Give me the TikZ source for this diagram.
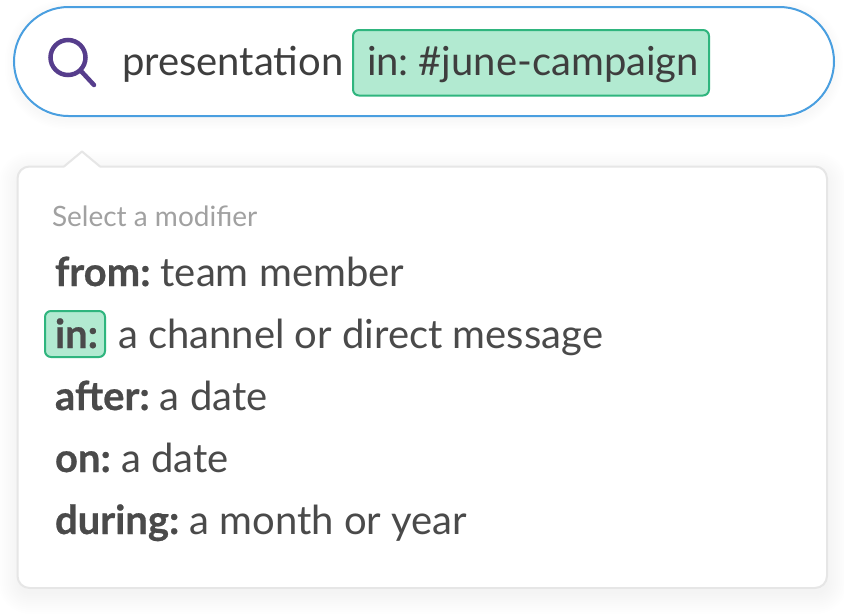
\documentclass[tikz,border=0pt]{standalone}
\usepackage{fontspec}
\setmainfont{Lato}[BoldFeatures={FakeBold=0.6}]
\usetikzlibrary{calc}
\definecolor{ink}{HTML}{3E3E3E}
\definecolor{rowink}{HTML}{4A4A4A}
\definecolor{chipfill}{HTML}{B2EAD1}
\definecolor{chipline}{HTML}{2FB57E}
\definecolor{barline}{HTML}{4A9FE0}
\definecolor{iconc}{HTML}{563D8C}
\definecolor{panelline}{HTML}{E6E6E6}
\newcommand{\lbl}[1]{\textbf{#1}\ }
\tikzset{
  x=1pt,y=-1pt,
  txt/.style={anchor=base west,inner sep=0pt,outer sep=0pt,text=rowink,font=\fontsize{40}{44}\selectfont},
  chip/.style={draw=chipline,fill=chipfill,line width=2pt,rounded corners=6pt},
  softshadow/.style={draw=black,opacity=0.005,line join=round,fill=none}
}
\begin{document}
\begin{tikzpicture}
\useasboundingbox (0,0) rectangle (844,614);
\fill[white] (0,0) rectangle (844,614);
% shadows
\foreach \w in {4,8,...,44}{
  \draw[softshadow,line width=\w pt,rounded corners=10pt] (20,174) rectangle (826,592);
}
\foreach \w in {2,5,...,20}{
  \draw[softshadow,line width=\w pt,rounded corners=50pt] (15,10) rectangle (833,119);
}
% search bar
\draw[draw=barline,fill=white,line width=2pt,rounded corners=54.5pt] (14,7) rectangle (834,116);
% icon
\draw[iconc,line width=4.5pt] (68,57.5) circle (17.5);
\draw[iconc,line width=4.5pt,line cap=round] (81,71) -- (94,85);
\node[txt,text=ink] (query) at (122,75) {presentation};
\draw[chip] (353,30) rectangle (709,95.5);
\node[txt,text=ink] (tag) at (367,75) {in:\kern-0.5pt\ \#june-campaign};
% panel
\draw[draw=panelline,fill=white,line width=2pt,line join=round,rounded corners=12pt]
  (64,166.5) [sharp corners] -- (82,151.5) -- (100,166.5) [rounded corners=12pt] -- (827,166.5)
  -- (827,588) -- (17.5,588) -- (17.5,166.5) [sharp corners] -- cycle;
\node[txt,text=black!37,font=\fontsize{28}{32}\selectfont] (head) at (52,226) {Select a modifier};
\node[txt] (r1) at (55,286) {\lbl{from:}team member};
\draw[chip] (45,311) rectangle (105,357);
\node[txt] (r2) at (55,348) {\textbf{in:}};
\node[txt] (r2b) at (118,348) {a channel or direct message};
\node[txt] (r3) at (55,410) {\lbl{after:}a date};
\node[txt] (r4) at (55,472) {\lbl{on:}a date};
\node[txt] (r5) at (55,534) {\lbl{during:}a month or year};
\end{tikzpicture}
\end{document}
